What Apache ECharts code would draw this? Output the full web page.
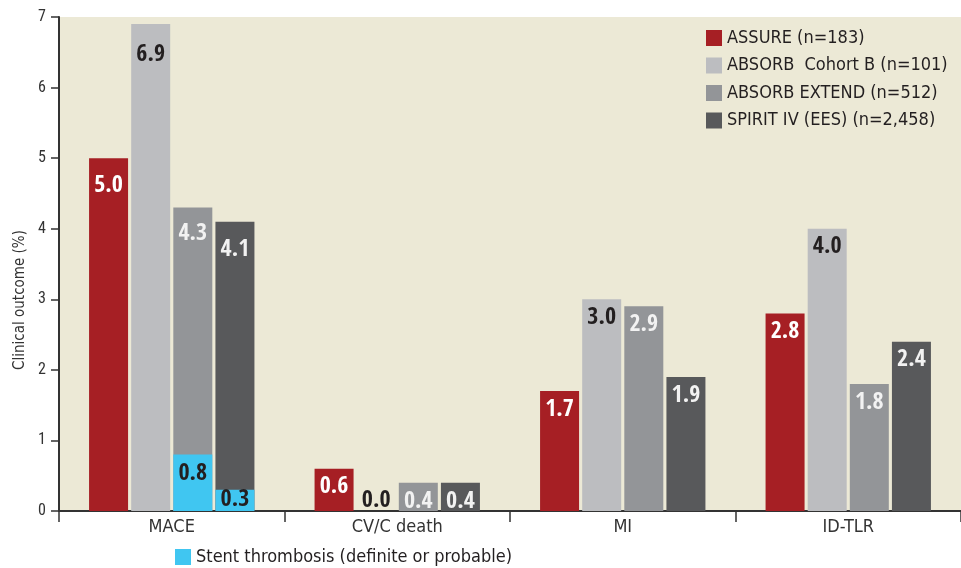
<!DOCTYPE html>
<html>
<head>
<meta charset="utf-8">
<script src="https://cdn.jsdelivr.net/npm/echarts@6/dist/echarts.min.js"></script>
<style>
  html, body { margin: 0; padding: 0; background: #ffffff; }
  #chart { width: 961px; height: 568px; }
</style>
</head>
<body>
<div id="chart"></div>
<script>
// Clinical outcomes by trial
const categories = ['MACE', 'CV/C death', 'MI', 'ID-TLR'];
const assure = [5.0, 0.6, 1.7, 2.8];
const cohortB = [6.9, 0.0, 3.0, 4.0];
const extend = [4.3, 0.4, 2.9, 1.8];
const spirit = [4.1, 0.4, 1.9, 2.4];
// Stent thrombosis (definite or probable), shown inside the MACE bars
const stentExtend = [0.8, null, null, null];
const stentSpirit = [0.3, null, null, null];
const yTicks = [0, 1, 2, 3, 4, 5, 6, 7];

const seriesNames = ['ASSURE (n=183)', 'ABSORB  Cohort B (n=101)', 'ABSORB EXTEND (n=512)', 'SPIRIT IV (EES) (n=2,458)'];
const stentName = 'Stent thrombosis (definite or probable)';

const TEXT_FONT = "'DejaVu Sans Condensed', 'Roboto Condensed', sans-serif";
const NUM_FONT = "'Roboto Condensed', 'DejaVu Sans Condensed', sans-serif";
const LABEL_FONT = "'Open Sans Condensed', 'Roboto Condensed', sans-serif";
const INK = '#231f20';

const colors = {
  assure: '#a61f24',
  cohortB: '#bcbdc0',
  extend: '#939598',
  spirit: '#58595b',
  stent: '#40c6f1'
};

const BAR_W = 39;
const BAR_GAP = '8%';

function valueLabel(color, distance) {
  return {
    show: true,
    position: 'insideTop',
    distance: distance,
    color: color,
    fontFamily: LABEL_FONT,
    fontWeight: 'bold',
    fontSize: 24,
    formatter: p => (p.value == null ? '' : Number(p.value).toFixed(1))
  };
}

// The first (MACE) bar of each series carries its own label offset;
// zero-height bars carry the label just above the axis.
function buildData(values, firstDistance) {
  return values.map((v, i) => {
    const item = { value: v };
    if (v === 0) {
      item.label = { position: 'top', distance: -1.5 };
    } else if (i === 0 && firstDistance != null) {
      item.label = { distance: firstDistance };
    }
    return item;
  });
}

function mainSeries(name, values, color, labelColor, firstDistance) {
  return {
    name: name,
    type: 'bar',
    xAxisIndex: 0,
    barWidth: BAR_W,
    barGap: BAR_GAP,
    itemStyle: { color: color },
    label: valueLabel(labelColor, 6.5),
    data: buildData(values, firstDistance)
  };
}

function overlaySeries(name, values, distance) {
  return {
    name: name,
    type: 'bar',
    xAxisIndex: 1,
    barWidth: BAR_W,
    barGap: BAR_GAP,
    itemStyle: { color: colors.stent },
    label: valueLabel(INK, distance),
    data: values.map(v => ({ value: v })),
    z: 3
  };
}

const chart = echarts.init(document.getElementById('chart'), null, { renderer: 'canvas' });

chart.setOption({
  animation: false,
  textStyle: { fontFamily: TEXT_FONT },
  grid: {
    left: 59, right: 0, top: 17, bottom: 57,
    show: true,
    backgroundColor: '#ece9d6',
    borderWidth: 0
  },
  legend: [
    {
      data: seriesNames,
      orient: 'vertical',
      left: 701,
      top: 24,
      itemWidth: 16,
      itemHeight: 16,
      itemGap: 9.5,
      icon: 'rect',
      textStyle: { fontFamily: TEXT_FONT, fontSize: 18, color: INK },
      selectedMode: false
    },
    {
      data: [stentName],
      left: 170,
      top: 543,
      itemWidth: 16,
      itemHeight: 16,
      icon: 'rect',
      textStyle: { fontFamily: TEXT_FONT, fontSize: 18, color: INK },
      selectedMode: false
    }
  ],
  xAxis: [
    {
      type: 'category',
      data: categories,
      axisLine: { lineStyle: { color: '#333333', width: 2 } },
      axisTick: { show: true, length: 11, lineStyle: { color: '#333333', width: 1.5 } },
      axisLabel: { color: '#333333', fontFamily: TEXT_FONT, fontSize: 18, margin: 7 },
      splitLine: { show: false }
    },
    {
      type: 'category',
      data: categories,
      show: false
    }
  ],
  yAxis: {
    type: 'value',
    min: yTicks[0],
    max: yTicks[yTicks.length - 1],
    interval: 1,
    name: 'Clinical outcome (%)',
    nameLocation: 'middle',
    nameGap: 31,
    nameTextStyle: { color: '#333333', fontFamily: TEXT_FONT, fontSize: 15, padding: [0, 72, 0, 0] },
    axisLine: { show: true, lineStyle: { color: '#333333', width: 2 } },
    axisTick: { show: true, length: 8, lineStyle: { color: '#333333', width: 1.5 } },
    axisLabel: { color: '#333333', fontFamily: NUM_FONT, fontSize: 16, margin: 13 },
    splitLine: { show: false }
  },
  series: [
    mainSeries(seriesNames[0], assure, colors.assure, '#ffffff', 15.5),
    mainSeries(seriesNames[1], cohortB, colors.cohortB, INK, 19),
    mainSeries(seriesNames[2], extend, colors.extend, '#f2f2f2', 14.5),
    mainSeries(seriesNames[3], spirit, colors.spirit, '#f2f2f2', 16.5),
    // empty slots so the overlay bars line up with the third and fourth bars
    { name: 'slot-a', type: 'bar', xAxisIndex: 1, barWidth: BAR_W, barGap: BAR_GAP, data: [null, null, null, null] },
    { name: 'slot-b', type: 'bar', xAxisIndex: 1, barWidth: BAR_W, barGap: BAR_GAP, data: [null, null, null, null] },
    overlaySeries(stentName, stentExtend, 7.5),
    overlaySeries(stentName, stentSpirit, -2)
  ]
});
</script>
</body>
</html>
